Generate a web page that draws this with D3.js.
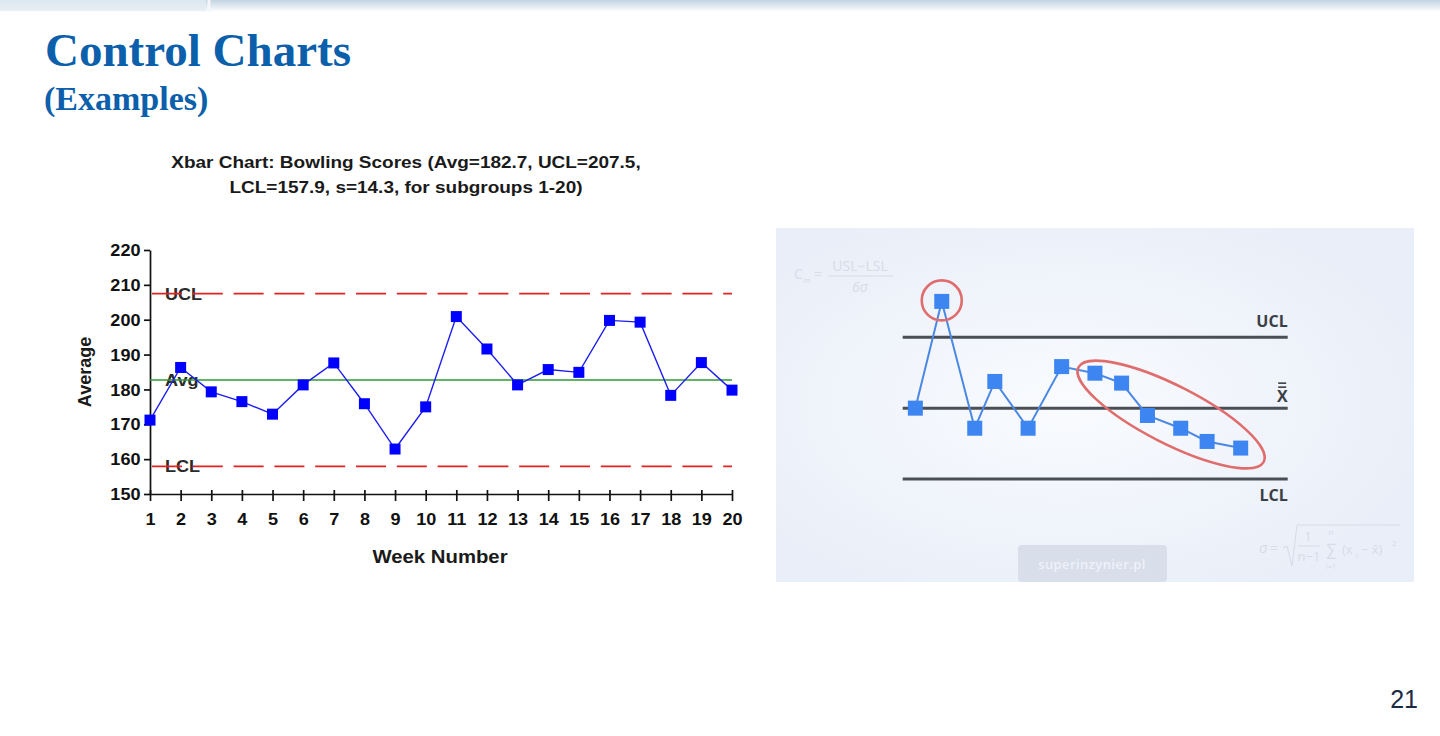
<!DOCTYPE html>
<html>
<head>
<meta charset="utf-8">
<script src="https://cdn.jsdelivr.net/npm/d3@7"></script>
<style>
  html, body { margin: 0; padding: 0; background: #fff; }
  svg { display: block; }
</style>
</head>
<body>
<svg id="slide" width="1440" height="736"></svg>
<script>
// left chart: xbar chart of bowling scores
const weeks = [1, 2, 3, 4, 5, 6, 7, 8, 9, 10, 11, 12, 13, 14, 15, 16, 17, 18, 19, 20];
const weekAverages = [171.2, 186.3, 179.3, 176.5, 172.9, 181.3, 187.6, 175.9, 162.9, 175.0,
                      200.9, 191.6, 181.3, 185.7, 184.9, 199.8, 199.3, 178.3, 187.7, 179.8];
const limitLabels = ["UCL", "Avg", "LCL"];
const limitValues = [207.5, 182.7, 157.9];
const yTicks = [150, 160, 170, 180, 190, 200, 210, 220];
const chartTitle = ["Xbar Chart: Bowling Scores (Avg=182.7, UCL=207.5,",
                    "LCL=157.9, s=14.3, for subgroups 1-20)"];

// right chart: schematic with an outlier and a falling trend (values in sigma units)
const sampleX = [0.46, 1.42, 2.62, 3.35, 4.56, 5.78, 6.99, 7.96, 8.90, 10.11, 11.07, 12.29];
const sampleSigma = [0, 4.52, -0.85, 1.13, -0.85, 1.76, 1.48, 1.06, -0.31, -0.85, -1.41, -1.69];
const sigmaLines = [3, 0, -3];
const sigmaLabels = ["UCL", "X", "LCL"];
const outlierIndex = 1;
const trendCenter = [9.76, -0.27];

const svg = d3.select("#slide");
const defs = svg.append("defs");

// ---- slide chrome ----
const band = defs.append("linearGradient").attr("id", "band").attr("x1", 0).attr("y1", 0).attr("x2", 0).attr("y2", 1);
band.append("stop").attr("offset", 0).attr("stop-color", "#c3d3e2");
band.append("stop").attr("offset", 1).attr("stop-color", "#ffffff");
svg.append("rect").attr("x", 0).attr("y", 0).attr("width", 1440).attr("height", 12).attr("fill", "url(#band)");
svg.append("rect").attr("x", 0).attr("y", 0).attr("width", 206).attr("height", 11)
  .attr("fill", "#e4ecf3").attr("opacity", 0.8);
svg.append("line").attr("x1", 209).attr("x2", 209).attr("y1", 0).attr("y2", 11)
  .attr("stroke", "#f4f7fa").attr("stroke-width", 3);

svg.append("text").attr("x", 45).attr("y", 66)
  .attr("font-family", "'Liberation Serif', 'Times New Roman', serif").attr("font-weight", "bold")
  .attr("font-size", 47).attr("fill", "#0b5fab").text("Control Charts");
svg.append("text").attr("x", 44).attr("y", 110)
  .attr("font-family", "'Liberation Serif', 'Times New Roman', serif").attr("font-weight", "bold")
  .attr("font-size", 34).attr("fill", "#0b5fab").text("(Examples)");

svg.append("text").attr("x", 1418).attr("y", 708).attr("text-anchor", "end")
  .attr("font-family", "'Liberation Sans', Arial, sans-serif").attr("font-size", 25)
  .attr("fill", "#1b2b45").text("21");

// ---- left chart ----
const arial = "'Liberation Sans', Arial, sans-serif";
const stretch = 1.13;

const x = d3.scaleLinear().domain([1, 20]).range([150, 732]);
const y = d3.scaleLinear().domain([150, 220]).range([494, 250]);

const left = svg.append("g").attr("id", "xbar");

left.selectAll("g.title")
  .data(chartTitle)
  .join("g")
    .attr("class", "title")
    .attr("transform", (d, i) => `translate(406,${168 + i * 25}) scale(${stretch},1)`)
  .append("text")
    .attr("text-anchor", "middle")
    .attr("font-family", arial).attr("font-weight", "bold").attr("font-size", 16.8)
    .attr("fill", "#1a1a1a")
    .text(d => d);

const yAxis = left.append("g")
    .attr("transform", `translate(${x(1)},0)`)
    .call(d3.axisLeft(y).tickValues(yTicks).tickSize(6).tickSizeOuter(0).tickPadding(4));
const xAxis = left.append("g")
    .attr("transform", `translate(0,${y(150)})`)
    .call(d3.axisBottom(x).tickValues(weeks).tickSize(7).tickSizeOuter(0).tickPadding(13).tickFormat(d3.format("d")));

[yAxis, xAxis].forEach(ax => {
  ax.select(".domain").attr("stroke", "#111").attr("stroke-width", 1.7);
  ax.selectAll(".tick line").attr("stroke", "#111").attr("stroke-width", 1.7);
  ax.selectAll(".tick text")
    .attr("font-family", arial).attr("font-weight", "bold").attr("font-size", 16)
    .attr("fill", "#111");
});
yAxis.selectAll(".tick text").attr("transform", `scale(${stretch},1)`).attr("x", -9.5 / stretch).attr("dy", "0.35em");
xAxis.selectAll(".tick line").attr("y1", -4);
xAxis.selectAll(".tick text").attr("transform", `scale(${stretch},1)`);

left.append("g")
    .attr("transform", `translate(440,563) scale(${stretch},1)`)
  .append("text")
    .attr("text-anchor", "middle")
    .attr("font-family", arial).attr("font-weight", "bold").attr("font-size", 18)
    .attr("fill", "#1a1a1a").text("Week Number");

left.append("text")
    .attr("transform", `translate(91,${y(185)}) rotate(-90)`)
    .attr("text-anchor", "middle")
    .attr("font-family", arial).attr("font-weight", "bold").attr("font-size", 18)
    .attr("fill", "#1a1a1a").text("Average");

// labels under the limit lines
left.selectAll("g.limit-label")
  .data(limitLabels)
  .join("g")
    .attr("class", "limit-label")
    .attr("transform", (d, i) => `translate(165,${y(limitValues[i]) + 6}) scale(${stretch},1)`)
  .append("text")
    .attr("font-family", arial).attr("font-weight", "bold").attr("font-size", 16)
    .attr("fill", "#2a2a2a").text(d => d);

left.selectAll("line.limit")
  .data(limitValues)
  .join("line")
    .attr("class", "limit")
    .attr("x1", x(1)).attr("x2", x(20))
    .attr("y1", d => y(d)).attr("y2", d => y(d))
    .attr("stroke", (d, i) => i === 1 ? "#2e9a36" : "#e52222")
    .attr("stroke-width", (d, i) => i === 1 ? 1.3 : 1.7)
    .attr("stroke-dasharray", (d, i) => i === 1 ? null : "30 10.8")
    .attr("stroke-dashoffset", -2);

left.append("path")
    .datum(weekAverages)
    .attr("fill", "none")
    .attr("stroke", "#1d1df0")
    .attr("stroke-width", 1.4)
    .attr("d", d3.line().x((d, i) => x(weeks[i])).y(d => y(d)));

left.append("g")
  .selectAll("path")
  .data(weekAverages)
  .join("path")
    .attr("transform", (d, i) => `translate(${x(weeks[i])},${y(d)})`)
    .attr("d", d3.symbol(d3.symbolSquare, 121))
    .attr("fill", "#0000ff");

// ---- right chart ----
const panel = { x: 776, y: 228, w: 638, h: 354 };
const glow = defs.append("radialGradient").attr("id", "glow")
  .attr("cx", 0.45).attr("cy", 0.5).attr("r", 0.6);
glow.append("stop").attr("offset", 0).attr("stop-color", "#f9fbfe");
glow.append("stop").attr("offset", 1).attr("stop-color", "#e9eef8");

const right = svg.append("g").attr("id", "schematic");
right.append("rect")
  .attr("x", panel.x).attr("y", panel.y).attr("width", panel.w).attr("height", panel.h)
  .attr("fill", "url(#glow)");

const faint = "#d6dce8";
const openSans = "'Open Sans', 'Noto Sans', sans-serif";

// faint formulas in the background
const cp = right.append("g").attr("font-family", openSans).attr("fill", faint);
cp.append("text").attr("x", 794).attr("y", 279).attr("font-size", 14).text("C");
cp.append("text").attr("x", 803).attr("y", 283).attr("font-size", 8).text("m");
cp.append("text").attr("x", 814).attr("y", 279).attr("font-size", 14).text("=");
cp.append("text").attr("x", 860).attr("y", 271).attr("text-anchor", "middle").attr("font-size", 14).text("USL\u2212LSL");
cp.append("line").attr("x1", 828).attr("x2", 893).attr("y1", 276).attr("y2", 276).attr("stroke", faint);
cp.append("text").attr("x", 860).attr("y", 292).attr("text-anchor", "middle").attr("font-size", 14).attr("font-style", "italic").text("6\u03c3");

const sd = right.append("g").attr("font-family", openSans).attr("fill", faint);
sd.append("text").attr("x", 1259).attr("y", 553).attr("font-size", 15).attr("font-style", "italic").text("\u03c3");
sd.append("text").attr("x", 1270).attr("y", 553).attr("font-size", 14).text("=");
sd.append("path").attr("d", "M1283,548 L1287,546 L1292,566 L1297,525 L1400,525")
  .attr("fill", "none").attr("stroke", faint).attr("stroke-width", 1);
sd.append("text").attr("x", 1308).attr("y", 541).attr("text-anchor", "middle").attr("font-size", 13).text("1");
sd.append("line").attr("x1", 1298).attr("x2", 1320).attr("y1", 546).attr("y2", 546).attr("stroke", faint);
sd.append("text").attr("x", 1309).attr("y", 561).attr("text-anchor", "middle").attr("font-size", 13).text("n\u22121");
sd.append("text").attr("x", 1331).attr("y", 535).attr("text-anchor", "middle").attr("font-size", 8).text("n");
sd.append("text").attr("x", 1331).attr("y", 555).attr("text-anchor", "middle").attr("font-size", 16).text("\u2211");
sd.append("text").attr("x", 1331).attr("y", 569).attr("text-anchor", "middle").attr("font-size", 7).text("i=1");
sd.append("text").attr("x", 1342).attr("y", 554).attr("font-size", 13).text("(x");
sd.append("text").attr("x", 1356).attr("y", 558).attr("font-size", 7).text("i");
sd.append("text").attr("x", 1361).attr("y", 554).attr("font-size", 13).text("\u2212 x\u0304)");
sd.append("text").attr("x", 1392).attr("y", 546).attr("font-size", 8).text("2");

// watermark button
right.append("rect").attr("x", 1018).attr("y", 545).attr("width", 149).attr("height", 37).attr("rx", 4)
  .attr("fill", "#d8deea");
right.append("text").attr("x", 1092).attr("y", 569).attr("text-anchor", "middle")
  .attr("font-family", openSans).attr("font-size", 13).attr("font-weight", 600)
  .attr("fill", "#eef2f8").attr("letter-spacing", 0.4).text("superinzynier.pl");

const sx = d3.scaleLinear().domain([0, 14]).range([902.7, 1287.7]);
const sy = d3.scaleLinear().domain([-3, 3]).range([479, 337.3]);

right.selectAll("line.sigma")
  .data(sigmaLines)
  .join("line")
    .attr("class", "sigma")
    .attr("x1", sx(0)).attr("x2", sx(14))
    .attr("y1", d => sy(d)).attr("y2", d => sy(d))
    .attr("stroke", "#4a4f56").attr("stroke-width", 3);

const labelY = [sy(3) - 10, sy(0) - 6, sy(-3) + 22];
right.selectAll("text.sigma-label")
  .data(sigmaLabels)
  .join("text")
    .attr("class", "sigma-label")
    .attr("x", sx(14)).attr("y", (d, i) => labelY[i])
    .attr("text-anchor", "end")
    .attr("font-family", openSans).attr("font-weight", "bold").attr("font-size", 16)
    .attr("fill", "#3a3f46").text(d => d);
// double bar over the X
[0, 4].forEach(off => {
  right.append("line")
    .attr("x1", sx(14) - 9.5).attr("x2", sx(14) - 1.5)
    .attr("y1", sy(0) - 25 + off).attr("y2", sy(0) - 25 + off)
    .attr("stroke", "#3a3f46").attr("stroke-width", 1.6);
});

right.append("path")
    .datum(sampleSigma)
    .attr("fill", "none")
    .attr("stroke", "#4a88e4")
    .attr("stroke-width", 2)
    .attr("d", d3.line().x((d, i) => sx(sampleX[i])).y(d => sy(d)));

right.append("g")
  .selectAll("rect")
  .data(sampleSigma)
  .join("rect")
    .attr("x", (d, i) => sx(sampleX[i]) - 7.5)
    .attr("y", d => sy(d) - 7.5)
    .attr("width", 15).attr("height", 15)
    .attr("fill", "#3d85f0");

right.append("circle")
  .attr("cx", sx(sampleX[outlierIndex])).attr("cy", sy(sampleSigma[outlierIndex]) - 1)
  .attr("r", 20)
  .attr("fill", "none").attr("stroke", "#e06d6d").attr("stroke-width", 2.6);

right.append("ellipse")
  .attr("transform", `translate(${sx(trendCenter[0])},${sy(trendCenter[1])}) rotate(27)`)
  .attr("rx", 104).attr("ry", 29)
  .attr("fill", "none").attr("stroke", "#e06d6d").attr("stroke-width", 2.6);
</script>
</body>
</html>
